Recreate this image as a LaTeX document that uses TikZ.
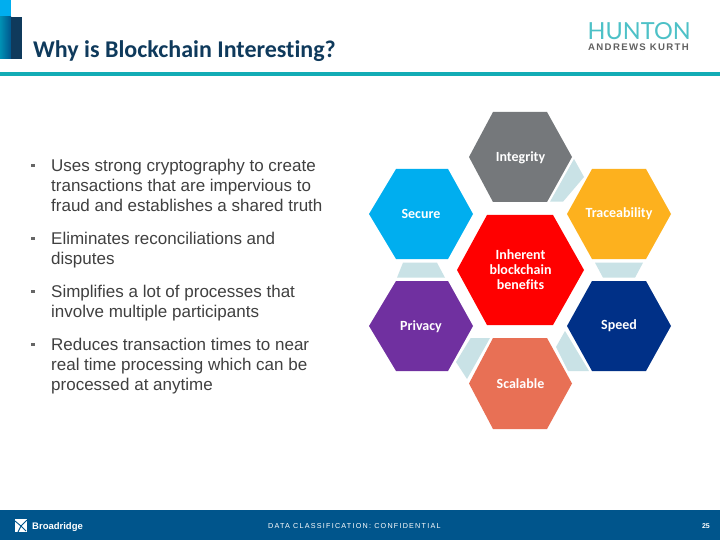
\documentclass[tikz,border=0pt]{standalone}
\usepackage{fontspec}
\setmainfont{Liberation Sans}
\newfontfamily\carl[Ligatures=CommonOff]{Carlito}
\newfontfamily\lat{Lato}
\definecolor{teal1}{HTML}{12ACB5}
\definecolor{navy1}{HTML}{0F3A5C}
\definecolor{foot}{HTML}{00558C}
\definecolor{pale}{HTML}{C9E2E6}
\definecolor{body1}{HTML}{404040}
\definecolor{hgray}{HTML}{75787B}
\definecolor{hcyan}{HTML}{00AEEF}
\definecolor{horange}{HTML}{FDB11E}
\definecolor{hpurple}{HTML}{7030A0}
\definecolor{hnavy}{HTML}{003087}
\definecolor{hsalmon}{HTML}{E87055}
\tikzset{
  hexlabel/.style={text=white,font=\carl\fontsize{14}{15}\selectfont\bfseries,align=center,inner sep=0pt},
  bullettext/.style={anchor=north west,inner sep=0pt,align=left,text=body1,font=\fontsize{17}{20}\selectfont},
  tab/.style={fill=pale,draw=none},
  bulletmark/.style={fill=body1!80,draw=none,minimum size=3.6pt,inner sep=0pt,shape=rectangle}
}
\begin{document}
\begin{tikzpicture}[x=1pt,y=-1pt]
\useasboundingbox (0,0) rectangle (720,540);
\fill[white] (0,0) rectangle (720,540);
% header
\fill[hcyan] (0,0) rectangle (11,17);
\shade[left color=foot!65!cyan,right color=foot] (0,17) rectangle (11,59);
\fill[navy1] (11,17) rectangle (22,59);
\node[anchor=base west,inner sep=0pt,text=navy1,font=\carl\fontsize{24}{26}\selectfont\bfseries] (title) at (33,58) {Why is Blockchain Interesting?};
\fill[teal1] (0,72) rectangle (720,76);
% logo
\node[anchor=base west,inner sep=0pt,text=teal1!75!white,font=\lat\fontsize{23.5}{24}\selectfont,text depth=0pt] (hunton) at (587.5,40) {HUNTON};
\node[anchor=base west,inner sep=0pt,text=black!62,font=\bfseries\fontsize{9.6}{10}\selectfont\addfontfeature{LetterSpace=14},text height=7pt] (andrews) at (588,50.5) {ANDREWS KURTH};
% bullets
\node[bullettext] (b1) at (51,158.5) {Uses strong cryptography to create\\transactions that are impervious to\\fraud and establishes a shared truth};
\node[bullettext] (b2) at (51,231.5) {Eliminates reconciliations and\\disputes};
\node[bullettext] (b3) at (51,284.5) {Simplifies a lot of processes that\\involve multiple participants};
\node[bullettext] (b4) at (51,337.5) {Reduces transaction times to near\\real time processing which can be\\processed at anytime};
\node[bulletmark] (m1) at (33,165.5) {};
\node[bulletmark] (m2) at (33,238.5) {};
\node[bulletmark] (m3) at (33,291.5) {};
\node[bulletmark] (m4) at (33,344.5) {};
% pale tabs
\fill[tab] (574,159) -- (584,177) -- (563,201.7) -- (550,201.7) -- cycle;
\fill[tab] (403,262.7) -- (437,262.7) -- (445,277.7) -- (397,277.7) -- cycle;
\fill[tab] (595,262.7) -- (643,262.7) -- (635,277.7) -- (603,277.7) -- cycle;
\fill[tab] (470.7,338) -- (490,338) -- (467,379) -- (456,362) -- cycle;
\fill[tab] (565,331) -- (589,371) -- (568,371) -- (556,347) -- cycle;
% hexagons
\fill[hgray] (493,112) -- (547,112) -- (572,157) -- (547,202) -- (493,202) -- (469,157) -- cycle;
\fill[hcyan] (396,169) -- (448,169) -- (473,214) -- (448,259) -- (396,259) -- (369,214) -- cycle;
\fill[horange] (592,169) -- (646,169) -- (671,214) -- (646,259) -- (592,259) -- (567,214) -- cycle;
\fill[red] (487,215) -- (553,215) -- (584,270) -- (553,325) -- (487,325) -- (457,270) -- cycle;
\fill[hpurple] (396,281) -- (448,281) -- (473,326) -- (448,371) -- (396,371) -- (369,326) -- cycle;
\fill[hnavy] (592,281) -- (646,281) -- (671,326) -- (646,371) -- (592,371) -- (567,326) -- cycle;
\fill[hsalmon] (493,338) -- (547,338) -- (572,383.5) -- (547,429) -- (493,429) -- (469,383.5) -- cycle;
\node[hexlabel] (integrity) at (520.5,157.5) {Integrity};
\node[hexlabel] (secure) at (421,213.5) {Secure};
\node[hexlabel] (trace) at (619,213.5) {Traceability};
\node[hexlabel] (inherent) at (520.5,270) {Inherent\\blockchain\\benefits};
\node[hexlabel] (privacy) at (421,327) {Privacy};
\node[hexlabel] (speed) at (619,325.5) {Speed};
\node[hexlabel] (scalable) at (520.5,383.5) {Scalable};
% footer
\fill[foot] (0,510) rectangle (720,540);
\fill[white] (15,519) -- (27,519) -- (27,532) -- (15,532) -- cycle;
\draw[foot,line width=.9pt] (15,521) -- (21,526) -- (27,520) (21,526) -- (18,532) (21,526) -- (26,531);
\node[anchor=base west,inner sep=0pt,text=white,font=\bfseries\fontsize{9.5}{11}\selectfont] (brand) at (32,529) {Broadridge};
\node[anchor=base west,inner sep=0pt,text=white,font=\fontsize{7.2}{9}\selectfont\addfontfeature{LetterSpace=17}] (class) at (268,528) {DATA CLASSIFICATION: CONFIDENTIAL};
\node[anchor=base east,inner sep=0pt,text=white,font=\bfseries\fontsize{7}{9}\selectfont] (page) at (710,528) {25};
\end{tikzpicture}
\end{document}
